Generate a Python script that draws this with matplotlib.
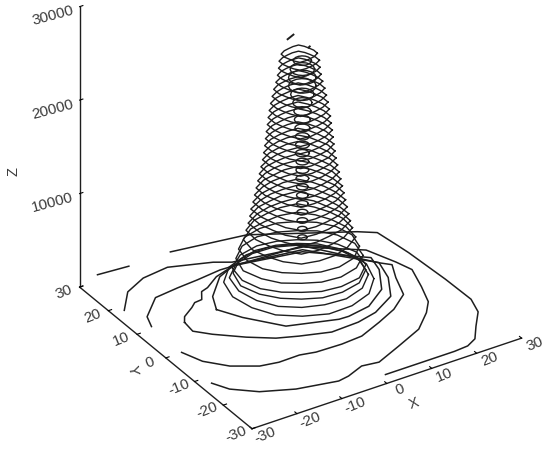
import numpy as np
import matplotlib
matplotlib.use("Agg")
import matplotlib.pyplot as plt
from mpl_toolkits.mplot3d import proj3d

plt.rcParams['font.family'] = ['Liberation Sans', 'DejaVu Sans']

x_ticks = [-30, -20, -10, 0, 10, 20, 30]
y_ticks = [-30, -20, -10, 0, 10, 20, 30]
z_ticks = [0, 10000, 20000, 30000]
z_tick_labels = ['', '10000', '20000', '30000']

# low contours hit the edges of the grid, so they are kept as traced x/y runs
c500_a_x = [-25.7, -19.1]
c500_a_y = [30.5, 29.9]
c500_b_x = [-9.8, 5.6, 23.6, 26.6, 27.2, 27.7, 28.4, 28.6, 27.3, 24.2, 21.6, 19.1, 16, 0.6]
c500_b_y = [30, 27.4, 17.2, 14.9, 10.1, 5.7, -6, -14.6, -19.1, -23.2, -26.9, -28.3, -28.6, -28.6]
c600_x = [-28.7, -27, -22.8, -16.5, -8.2, -5.7, -1.7, 1.8, 7.9, 14.4, 18.8, 21.2, 23, 24.8,
          23.7, 21.3, 11.9, -2.2, -5.2, -13.4, -19.3, -24.4, -28.5]
c600_y = [-13.9, -17.5, -21.3, -24.2, -26.1, -25.6, -23.9, -24.5, -21.7, -18.6, -14.4, -11.3, -6.1, 0,
          3.9, 10.5, 17.8, 20.4, 22.3, 25.4, 24.6, 22, 16.8]
c700_x = [-27.7, -26.1, -22.7, -18, -14.2, -9.6, -6.4, -0.8, 3.9, 9.3, 14.1, 18.5, 20.5, 22.4,
          20.7, 11.9, -2.1, -5.8, -11.3, -15.9, -21.3, -26.3, -27.5]
c700_y = [-1.9, -6.7, -10.9, -13.9, -14.7, -14.6, -15.4, -15.6, -15.2, -12.8, -10.4, -6.9, -1.1, 3.2,
          5.1, 17.9, 18.8, 19, 18.3, 17.9, 17.2, 12.3, 8.9]
c1000_x = [-22, -22.4, -19.9, -15.1, -10.6, -6.6, -0.6, 5.5, 10.1, 15.6, 18.8, 20.2,
           10.6, -3, -8.2, -11.7, -13.4, -14.9, -16.6, -18, -20.9, -22]
c1000_y = [6, 2.5, -0.4, -4.7, -8, -9.7, -11.8, -11.5, -10.3, -7, -1.1, 4.3,
           15.9, 18.2, 16.5, 14.1, 13.5, 11.1, 10.9, 9.7, 7.7, 6]
c1500_x = [-15.4, -12.8, -7.6, 2.1, 4.2, 9.3, 14.6, 18, 19, 9.3, -4.3, -8.6, -13.5, -15.4]
c1500_y = [5.2, 0.2, -6.8, -10.1, -10.2, -9.2, -5.4, 0.8, 5.2, 13.9, 16.7, 14.7, 9.5, 5.2]

low_x = [c500_a_x, c500_b_x, c600_x, c700_x, c1000_x, c1500_x]
low_y = [c500_a_y, c500_b_y, c600_y, c700_y, c1000_y, c1500_y]
low_z = [500, 500, 600, 700, 1000, 1500]

# closed rings: distance from the ring centre at 16 bearings, first one pointing screen right
levels = [2000, 3000, 4000, 5000, 6000, 7000, 8000, 9000, 9750, 10500, 11250, 12000, 12750, 13500,
          14250, 15000, 15750, 16500, 17250, 18000, 18750, 19500, 20250, 21000, 21750, 22500,
          23250, 24000, 24750, 25500, 26250, 27000, 27750]
center_x = [2.4, 1.4, 0.5] + [-0.3] * 30
center_y = [4.2, 2.7, 1.3] + [0.0] * 30
radii = [
    [14.0, 13.9, 13.4, 13.0, 12.9, 13.2, 13.5, 14.0, 14.2, 13.8, 13.2, 13.1, 12.8, 13.2, 13.4, 13.9],
    [13.0, 12.7, 12.0, 11.3, 11.0, 11.4, 11.9, 12.6, 13.1, 12.5, 11.8, 11.5, 11.2, 11.3, 12.0, 12.6],
    [12.5, 12.0, 11.0, 10.4, 10.0, 10.3, 11.1, 11.9, 12.4, 12.1, 11.0, 10.2, 9.9, 10.4, 11.0, 12.0],
    [12.5, 11.9, 10.7, 9.9, 9.5, 9.9, 10.8, 11.8, 12.6, 11.8, 10.8, 9.8, 9.3, 9.9, 10.7, 12.0],
    [12.0, 11.5, 10.6, 9.9, 9.4, 9.8, 10.7, 11.4, 11.9, 11.6, 10.5, 9.9, 9.4, 9.9, 10.6, 11.4],
    [11.3, 10.9, 10.2, 9.6, 9.3, 9.7, 10.1, 10.9, 11.4, 10.8, 10.2, 9.5, 9.2, 9.6, 10.2, 10.9],
    [10.6, 9.7, 9.0, 8.9, 9.3, 8.9, 8.8, 9.7, 10.5, 9.7, 8.9, 8.9, 9.2, 8.9, 9.1, 9.6],
    [10.0, 9.0, 8.3, 8.3, 9.0, 8.4, 8.2, 9.0, 10.0, 9.0, 8.3, 8.4, 9.0, 8.4, 8.2, 8.9],
    [9.6, 8.5, 7.6, 8.0, 8.6, 7.8, 7.8, 8.4, 9.6, 8.3, 7.8, 7.8, 8.7, 7.9, 7.6, 8.4],
    [9.3, 8.0, 7.5, 7.5, 8.4, 7.7, 7.4, 8.2, 9.3, 8.1, 7.4, 7.7, 8.3, 7.6, 7.5, 8.0],
    [9.0, 7.9, 7.1, 7.5, 8.1, 7.3, 7.3, 7.8, 9.1, 7.8, 7.2, 7.5, 8.1, 7.4, 7.2, 7.9],
    [8.7, 7.5, 7.0, 7.1, 7.8, 7.2, 6.9, 7.6, 8.7, 7.6, 6.9, 7.2, 7.8, 7.1, 7.0, 7.5],
    [8.4, 7.4, 6.7, 6.9, 7.6, 6.8, 6.8, 7.3, 8.4, 7.3, 6.8, 6.9, 7.5, 6.9, 6.7, 7.3],
    [8.1, 7.0, 6.5, 6.6, 7.3, 6.7, 6.4, 7.1, 8.1, 7.1, 6.4, 6.7, 7.3, 6.6, 6.5, 7.0],
    [7.8, 6.9, 6.2, 6.4, 7.0, 6.4, 6.3, 6.8, 7.8, 6.7, 6.3, 6.4, 7.0, 6.4, 6.2, 6.8],
    [7.5, 6.5, 6.0, 6.2, 6.8, 6.1, 6.0, 6.6, 7.5, 6.5, 6.0, 6.2, 6.7, 6.2, 6.0, 6.5],
    [7.2, 6.3, 5.7, 6.0, 6.5, 5.9, 5.8, 6.2, 7.2, 6.3, 5.7, 6.0, 6.5, 5.9, 5.8, 6.2],
    [6.9, 6.0, 5.5, 5.7, 6.2, 5.7, 5.5, 6.0, 6.9, 6.0, 5.5, 5.7, 6.2, 5.7, 5.5, 6.0],
    [6.7, 5.9, 5.3, 5.5, 6.0, 5.5, 5.4, 5.8, 6.7, 5.8, 5.4, 5.5, 6.0, 5.5, 5.3, 5.9],
    [6.5, 5.6, 5.2, 5.4, 5.9, 5.3, 5.2, 5.7, 6.5, 5.6, 5.2, 5.4, 5.8, 5.3, 5.2, 5.7],
    [6.35, 5.5, 5.1, 5.2, 5.7, 5.2, 5.1, 5.5, 6.35, 5.5, 5.1, 5.2, 5.7, 5.2, 5.1, 5.5],
    [6.2, 5.4, 5.0, 5.1, 5.6, 5.1, 4.9, 5.4, 6.2, 5.4, 5.0, 5.1, 5.6, 5.1, 5.0, 5.4],
    [6.0, 5.2, 4.8, 4.9, 5.4, 4.9, 4.8, 5.2, 6.0, 5.2, 4.8, 4.9, 5.4, 5.0, 4.8, 5.2],
    [5.85, 5.1, 4.7, 4.8, 5.3, 4.8, 4.7, 5.1, 5.85, 5.1, 4.7, 4.8, 5.2, 4.8, 4.7, 5.1],
    [5.65, 4.9, 4.5, 4.6, 5.1, 4.6, 4.5, 4.9, 5.65, 4.9, 4.5, 4.6, 5.1, 4.7, 4.5, 4.9],
    [5.4, 4.7, 4.3, 4.4, 4.9, 4.4, 4.3, 4.7, 5.4, 4.7, 4.3, 4.4, 4.9, 4.4, 4.3, 4.7],
    [5.1, 4.4, 4.1, 4.2, 4.6, 4.2, 4.1, 4.4, 5.1, 4.4, 4.1, 4.2, 4.6, 4.2, 4.1, 4.4],
    [4.8, 4.2, 3.8, 3.9, 4.3, 3.9, 3.8, 4.2, 4.8, 4.2, 3.8, 3.9, 4.3, 3.9, 3.9, 4.2],
    [4.4, 3.8, 3.5, 3.6, 4.0, 3.6, 3.5, 3.8, 4.4, 3.8, 3.5, 3.6, 4.0, 3.6, 3.5, 3.8],
    [4.1, 3.6, 3.3, 3.4, 3.7, 3.4, 3.3, 3.6, 4.1, 3.6, 3.3, 3.4, 3.7, 3.4, 3.3, 3.6],
    [3.9, 3.4, 3.1, 3.2, 3.5, 3.2, 3.1, 3.4, 3.9, 3.4, 3.1, 3.2, 3.5, 3.2, 3.1, 3.4],
    [3.8, 3.3, 3.0, 3.1, 3.4, 3.1, 3.0, 3.3, 3.8, 3.3, 3.0, 3.1, 3.4, 3.1, 3.0, 3.3],
    [3.4, 3.0, 2.7, 2.8, 3.1, 2.8, 2.7, 3.0, 3.4, 3.0, 2.7, 2.8, 3.1, 2.8, 2.7, 3.0],
]

# second, narrow set of contours running up the middle of the peak
inner_levels = [8100, 9000, 9900, 10800, 11700, 12600, 13500, 14400, 15300, 16200, 17100,
                18000, 18900, 19800, 20700, 21600, 22500, 23400, 24300, 25200, 26100, 27000]
inner_radius = [0.9, 0.9, 1.0, 1.0, 1.1, 1.1, 1.1, 1.2, 1.2, 1.2, 1.3,
                1.3, 1.3, 1.4, 1.5, 1.6, 1.8, 2.2, 2.6, 2.6, 2.3, 1.7]
inner_cx = 0.2
inner_cy = -0.3

# the two small bits at the very top
peak_z = [29500, 29000]
peak_x = [[-2.5, -0.7], [0.1, 0.5]]
peak_y = [[0.6, 1.4], [-2.6, -2.4]]

LINE = '#1e1e1e'
TEXT = '#3a3a3a'
BEARINGS = np.radians(np.arange(-30, 330, 22.5))


def ring(cx, cy, r):
    r = np.asarray(r)
    xs = cx + r * np.cos(BEARINGS)
    ys = cy + r * np.sin(BEARINGS)
    return np.append(xs, xs[0]), np.append(ys, ys[0])


fig = plt.figure(figsize=(5.5, 4.51), dpi=100)
ax = fig.add_axes([69 / 550, 47 / 451, 451 / 550, 1.0], projection='3d')
ax.set_proj_type('ortho')
ax.view_init(elev=31.7, azim=-122.6)
ax.set_box_aspect((1, 1, 1.03), zoom=1.205)

for xs, ys, z in zip(low_x, low_y, low_z):
    ax.plot(xs, ys, z, color=LINE, lw=1.1)
for z, cx, cy, r in zip(levels, center_x, center_y, radii):
    xs, ys = ring(cx, cy, r)
    ax.plot(xs, ys, z, color=LINE, lw=1.0)
for z, r in zip(inner_levels, inner_radius):
    xs, ys = ring(inner_cx, inner_cy, [r] * len(BEARINGS))
    ax.plot(xs, ys, z, color=LINE, lw=1.0)
for z, xs, ys in zip(peak_z, peak_x, peak_y):
    ax.plot(xs, ys, z, color=LINE, lw=1.4)

ax.set_xlim(-30, 30, view_margin=0)
ax.set_ylim(-30, 30, view_margin=0)
ax.set_zlim(0, 30000, view_margin=0)
ax.set_xticks(x_ticks)
ax.set_yticks(y_ticks)
ax.set_zticks(z_ticks)
ax.set_xticklabels([''] * len(x_ticks))
ax.set_yticklabels([''] * len(y_ticks))
ax.set_zticklabels([''] * len(z_ticks))
ax.grid(False)

for axis in (ax.xaxis, ax.yaxis, ax.zaxis):
    axis.pane.set_visible(False)
    axis.line.set_color(LINE)
    axis.line.set_linewidth(1.0)
    axis._axinfo['tick']['inward_factor'] = 0.0
    axis._axinfo['tick']['outward_factor'] = 0.15
    axis._axinfo['tick']['linewidth'] = {True: 0.8, False: 0.8}
    axis._axinfo['tick']['color'] = LINE


def tick_text(x, y, z, s, rotation):
    # tick labels sit closer to the axes than mplot3d's own placement allows
    px, py, _ = proj3d.proj_transform(x, y, z, ax.get_proj())
    ax.text2D(px, py, s, transform=ax.transData, fontsize=11, color=TEXT,
              rotation=rotation, ha='center', va='center')


for t in x_ticks:
    tick_text(t + 0.8, -33.2, 0, str(t), 22)
for t in y_ticks:
    tick_text(-33.5, t, 0, str(t), 22)
for t, label in zip(z_ticks, z_tick_labels):
    if label:
        tick_text(-36, 30, t, label, 15)

fig.text(414 / 550, 1 - 404 / 451, 'X', fontsize=10.5, color=TEXT, rotation=20, ha='center', va='center')
fig.text(132 / 550, 1 - 370 / 451, 'Y', fontsize=10.5, color=TEXT, rotation=-80, ha='center', va='center')
fig.text(14 / 550, 1 - 172 / 451, 'Z', fontsize=10.5, color=TEXT, rotation=90, ha='center', va='center')

fig.savefig('out.png', dpi=100)
